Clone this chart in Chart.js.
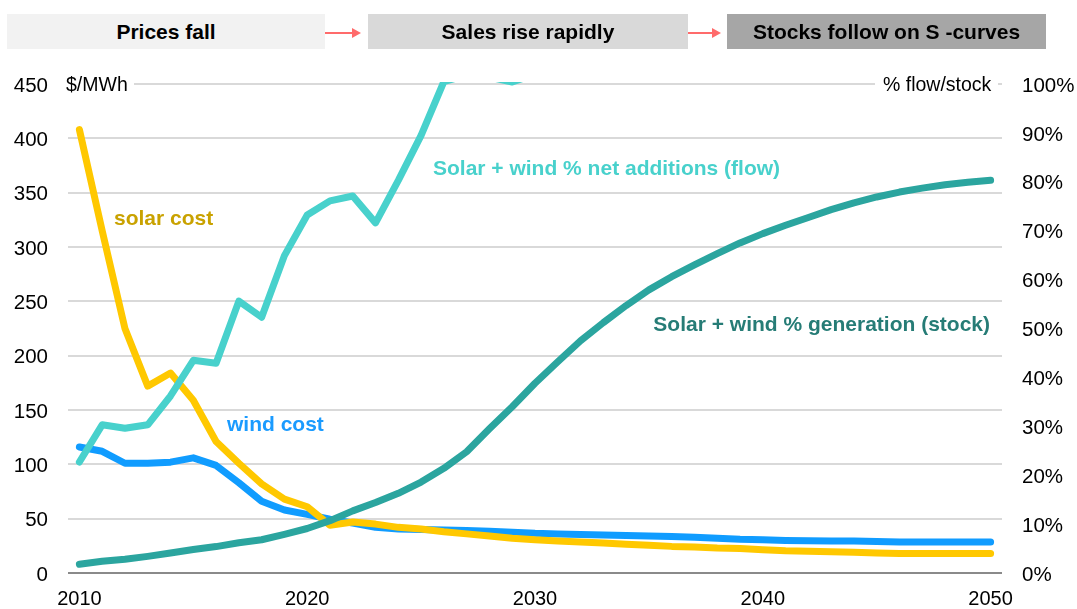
<!DOCTYPE html>
<html><head><meta charset="utf-8">
<script src="https://cdn.jsdelivr.net/npm/chart.js@4/dist/chart.umd.min.js"></script>
<style>
html,body{margin:0;padding:0;background:#fff;}
#wrap{position:relative;width:1077px;height:609px;overflow:hidden;font-family:"Liberation Sans",Arial,sans-serif;}
#c{position:absolute;left:0;top:0;}
.box{position:absolute;top:14px;height:35px;line-height:35px;text-align:center;font-weight:bold;font-size:21px;color:#000;}
.arrow{position:absolute;top:32px;height:2px;background:#FF6B6B;}
.arrow:after{content:"";position:absolute;right:-2px;top:-4px;border-left:9px solid #FF6B6B;border-top:5px solid transparent;border-bottom:5px solid transparent;}
</style></head>
<body>
<div id="wrap">
<canvas id="c" width="1077" height="609"></canvas>
<div class="box" style="left:7px;width:318px;background:#F2F2F2;">Prices fall</div>
<div class="arrow" style="left:325px;width:34px;"></div>
<div class="box" style="left:368px;width:320px;background:#D9D9D9;">Sales rise rapidly</div>
<div class="arrow" style="left:688px;width:31px;"></div>
<div class="box" style="left:727px;width:319px;background:#A6A6A6;">Stocks follow on S -curves</div>
</div>
<script>
const years = ['2010','2011','2012','2013','2014','2015','2016','2017','2018','2019','2020','2021','2022','2023','2024','2025','2026','2027','2028','2029','2030','2031','2032','2033','2034','2035','2036','2037','2038','2039','2040','2041','2042','2043','2044','2045','2046','2047','2048','2049','2050'];
const xTickLabels = ['2010','2020','2030','2040','2050'];
const solarCost = [408,315,225,172,184,159,121,101,82,68,61,44,47,45,42,40.5,38,36,34,32,30.5,29.5,28.5,27.5,26.5,25.5,24.5,24,23,22.5,21.5,20.5,20,19.5,19,18.5,18,18,18,18,18];
const windCost = [116,112,101,101,102,106,99,83,66,58,54,49.5,46,42,40.5,40,39.5,39,38.5,37.5,36.5,36,35.5,35,34.5,34,33.5,33,32,31,30.5,30,29.7,29.5,29.5,29,28.5,28.5,28.5,28.5,28.5];
const flowShare = [22.7,30.3,29.6,30.3,36.2,43.5,42.9,55.6,52.3,64.9,73.2,76.1,77.1,71.6,80.3,89.5,100.5,101.8,101.4,100.4,102,null,null,null,null,null,null,null,null,null,null,null,null,null,null,null,null,null,null,null,null];
const stockShare = [1.8,2.4,2.8,3.4,4.1,4.8,5.4,6.2,6.8,7.9,9.1,10.7,12.7,14.4,16.3,18.6,21.4,24.8,29.5,34,38.8,43.2,47.5,51.2,54.7,57.9,60.6,63.0,65.3,67.5,69.4,71.1,72.7,74.3,75.7,76.9,77.9,78.7,79.4,79.9,80.3];
const leftTicks = [0,50,100,150,200,250,300,350,400,450];
const rightTicks = [0,10,20,30,40,50,60,70,80,90,100];

const FONT = '"Liberation Sans", Arial, sans-serif';
const lineBase = {pointRadius:0, pointHoverRadius:0, borderWidth:7, tension:0, borderCapStyle:'round', borderJoinStyle:'round', fill:false};

const labelsPlugin = {
  id:'labels',
  afterDraw(chart){
    const ctx = chart.ctx;
    const ca = chart.chartArea;
    ctx.save();
    ctx.font = '19.5px ' + FONT;
    ctx.textBaseline = 'middle';
    ctx.fillStyle = '#fff';
    ctx.fillRect(ca.left - 4, ca.top - 10, 70, 20);
    ctx.fillRect(875, ca.top - 10, ca.right - 4 - 875, 20);
    ctx.fillStyle = '#000';
    ctx.textAlign = 'left';
    ctx.fillText('$/MWh', ca.left - 2, ca.top + 2);
    ctx.fillText('% flow/stock', 883, ca.top + 2);
    ctx.font = 'bold 21px ' + FONT;
    ctx.fillStyle = '#C9A200';
    ctx.fillText('solar cost', 114, 219);
    ctx.fillStyle = '#1A9BFF';
    ctx.fillText('wind cost', 227, 425);
    ctx.fillStyle = '#48D1CC';
    ctx.fillText('Solar + wind % net additions (flow)', 433, 169);
    ctx.fillStyle = '#267C76';
    ctx.textAlign = 'right';
    ctx.fillText('Solar + wind % generation (stock)', 990, 325);
    ctx.restore();
  }
};

new Chart(document.getElementById('c'), {
  type:'line',
  data:{
    labels: years,
    datasets:[
      Object.assign({label:'Solar + wind % generation (stock)', data:stockShare, borderColor:'#2BA59F', yAxisID:'y1'}, lineBase),
      Object.assign({label:'Solar + wind % net additions (flow)', data:flowShare, borderColor:'#48D1CC', yAxisID:'y1', clip:2}, lineBase),
      Object.assign({label:'solar cost', data:solarCost, borderColor:'#FFC800', yAxisID:'y'}, lineBase),
      Object.assign({label:'wind cost', data:windCost, borderColor:'#109CFF', yAxisID:'y'}, lineBase)
    ]
  },
  options:{
    responsive:false,
    animation:false,
    events:[],
    layout:{padding:{top:84,left:0,right:0,bottom:0}},
    plugins:{legend:{display:false}, tooltip:{enabled:false}, title:{display:false}},
    scales:{
      x:{
        type:'category', offset:true,
        grid:{display:false, drawTicks:false},
        border:{display:false},
        ticks:{autoSkip:false, maxRotation:0, minRotation:0, padding:14, color:'#000', font:{family:FONT, size:20},
          callback:function(v){ const l = this.getLabelForValue(v); return xTickLabels.includes(l) ? l : ''; }},
        afterFit(s){ s.height = 36; }
      },
      y:{
        position:'left', min:0, max:450,
        afterBuildTicks(s){ s.ticks = leftTicks.map(v=>({value:v})); },
        grid:{drawTicks:false, lineWidth:2, color:(c)=> c.tick && c.tick.value===0 ? '#8a8a8a' : '#d9d9d9'},
        border:{display:false},
        ticks:{padding:20, labelOffset:2, color:'#000', font:{family:FONT, size:20.5}},
        afterFit(s){ s.width = 68; }
      },
      y1:{
        position:'right', min:0, max:100,
        afterBuildTicks(s){ s.ticks = rightTicks.map(v=>({value:v})); },
        grid:{display:false, drawTicks:false},
        border:{display:false},
        ticks:{padding:20, labelOffset:2, color:'#000', font:{family:FONT, size:20.5}, callback:(v)=> v + '%'},
        afterFit(s){ s.width = 75; }
      }
    }
  },
  plugins:[labelsPlugin]
});
</script>
</body></html>
